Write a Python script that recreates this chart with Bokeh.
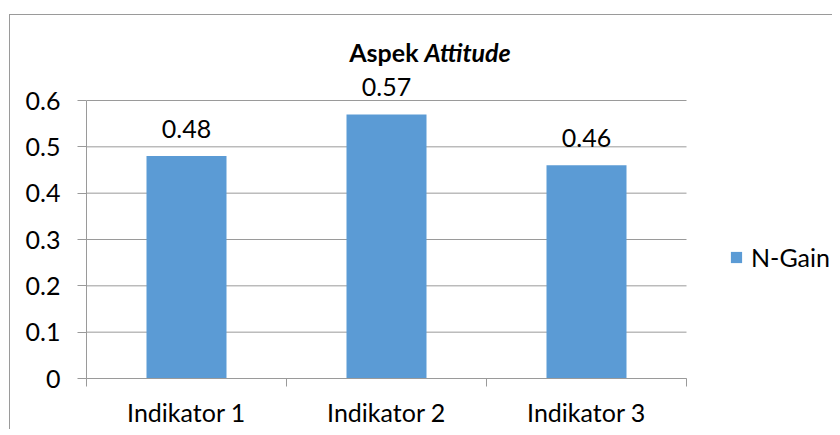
from bokeh.plotting import figure
from bokeh.models import Range1d, FixedTicker, Label, Legend, LegendItem
from bokeh.core.properties import value
from bokeh.embed import file_html
from bokeh.resources import INLINE

categories = ["Indikator 1", "Indikator 2", "Indikator 3"]
ngain = [0.48, 0.57, 0.46]
y_ticks = [0, 0.1, 0.2, 0.3, 0.4, 0.5, 0.6]
series_name = "N-Gain"
title_plain = "Aspek"
title_italic = "Attitude"

FONT = "Lato"
FS = "25px"
GRAY = "#9a9a9a"
BAR = "#5B9BD5"

n = len(categories)
xpos = [i + 0.5 for i in range(n)]
bounds = [i for i in range(n + 1)]

PX_PER_CAT = 200.0
PX_PER_UNIT = 463.33
FW, FH = 746, 363

p = figure(frame_width=FW, frame_height=FH,
           x_range=Range1d(0, FW / PX_PER_CAT),
           y_range=Range1d(0, FH / PX_PER_UNIT),
           output_backend="svg", toolbar_location=None,
           min_border_left=76, min_border_right=0,
           min_border_top=0, min_border_bottom=0)
p.styles = {"border-left": "1px solid " + GRAY, "border-top": "1px solid " + GRAY,
            "margin-left": "9px", "margin-top": "14px"}
p.outline_line_color = None
p.background_fill_color = "white"

# horizontal gridlines limited to the category span
p.segment(x0=[bounds[0]] * len(y_ticks), x1=[bounds[-1]] * len(y_ticks),
          y0=y_ticks, y1=y_ticks, line_color=GRAY, line_width=1)

bars = p.vbar(x=xpos, top=ngain, width=0.4, fill_color=BAR, line_color=None)

p.text(x=xpos, y=ngain, text=[f"{v:.2f}" for v in ngain], text_align="center",
       text_baseline="middle", y_offset=-27, text_font=value(FONT),
       text_font_size=value(FS), text_color="black")

# x axis
p.xaxis.ticker = FixedTicker(ticks=xpos, minor_ticks=bounds)
p.xaxis.major_label_overrides = {x: c for x, c in zip(xpos, categories)}
p.xaxis.bounds = (bounds[0], bounds[-1])
p.xaxis.major_tick_out = 0
p.xaxis.major_tick_in = 0
p.xaxis.minor_tick_out = 8
p.xaxis.minor_tick_in = 0
p.xaxis.minor_tick_line_color = GRAY
p.xaxis.axis_line_color = GRAY
p.xaxis.major_label_standoff = 10
p.xgrid.grid_line_color = None

# y axis
p.yaxis.ticker = FixedTicker(ticks=y_ticks, minor_ticks=[])
p.yaxis.major_label_overrides = {t: ("0" if t == 0 else f"{t:.1f}") for t in y_ticks}
p.yaxis.bounds = (y_ticks[0], y_ticks[-1])
p.yaxis.major_tick_out = 9
p.yaxis.major_tick_in = 0
p.yaxis.major_tick_line_color = GRAY
p.yaxis.axis_line_color = GRAY
p.yaxis.major_label_standoff = 17
p.ygrid.grid_line_color = None

for ax in (p.xaxis, p.yaxis):
    ax.major_label_text_font = FONT
    ax.major_label_text_font_size = FS
    ax.major_label_text_color = "black"

legend = Legend(items=[LegendItem(label=series_name, renderers=[bars])],
                location=(643, 106), border_line_color=None, background_fill_alpha=0,
                padding=0, margin=0, glyph_width=14, glyph_height=14, label_standoff=8,
                label_text_font=FONT, label_text_font_size=FS, label_text_color="black")
p.add_layout(legend)

p.add_layout(Label(x=1.66, y=0.705, text=title_plain, text_align="right",
                   text_baseline="alphabetic", text_font=FONT, text_font_size="25px",
                   text_font_style="bold", text_color="black"))
p.add_layout(Label(x=1.66, y=0.705, x_offset=6, text=title_italic, text_align="left",
                   text_baseline="alphabetic", text_font=FONT, text_font_size="25px",
                   text_font_style="bold italic", text_color="black"))

open("out.html", "w").write(file_html(p, INLINE))
